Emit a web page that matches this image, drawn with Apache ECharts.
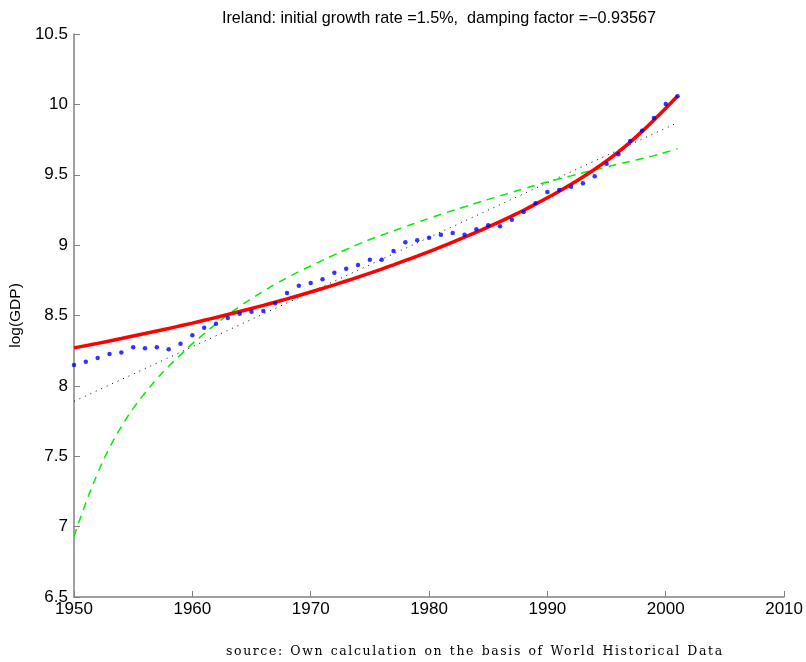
<!DOCTYPE html>
<html>
<head>
<meta charset="utf-8">
<script src="https://cdn.jsdelivr.net/npm/echarts@6/dist/echarts.min.js"></script>
<style>
  html, body { margin: 0; padding: 0; background: #fff; }
  #wrap { position: relative; width: 806px; height: 662px; }
  #chart { width: 806px; height: 662px; }
  #source {
    position: absolute; left: 226px; top: 643px;
    font-family: 'DejaVu Serif', serif; font-size: 12.5px;
    letter-spacing: 1.6px; word-spacing: 1px; color: #000; white-space: nowrap;
  }
</style>
</head>
<body>
<div id="wrap">
  <div id="chart"></div>
  <div id="source">source: Own calculation on the basis of World Historical Data</div>
</div>
<script>
// Years covered by the data
const years = [];
for (let y = 1950; y <= 2001; y++) years.push(y);

// Observed log(GDP) for Ireland, one value per year
const logGdp = [
  8.148, 8.172, 8.198, 8.226, 8.238, 8.274, 8.267, 8.274, 8.260, 8.300,
  8.359, 8.413, 8.442, 8.482, 8.513, 8.527, 8.532, 8.587, 8.660, 8.712,
  8.731, 8.757, 8.804, 8.833, 8.859, 8.896, 8.896, 8.958, 9.020, 9.034,
  9.053, 9.074, 9.086, 9.074, 9.112, 9.141, 9.134, 9.181, 9.235, 9.297,
  9.377, 9.392, 9.415, 9.439, 9.489, 9.579, 9.645, 9.740, 9.813, 9.903,
  10.003, 10.057
];

// Damped-growth model path (red), one value per year
const modelVals = [
  8.270, 8.286, 8.302, 8.319, 8.336, 8.354, 8.372, 8.390, 8.408, 8.427,
  8.446, 8.466, 8.486, 8.507, 8.528, 8.550, 8.572, 8.595, 8.618, 8.642,
  8.667, 8.692, 8.718, 8.745, 8.773, 8.801, 8.830, 8.860, 8.891, 8.922,
  8.954, 8.987, 9.021, 9.056, 9.092, 9.129, 9.167, 9.207, 9.248, 9.291,
  9.336, 9.383, 9.432, 9.484, 9.539, 9.598, 9.662, 9.732, 9.808, 9.889,
  9.973, 10.060
];

// Alternative fit (green dashed), one value per year
const altVals = [
  6.930, 7.170, 7.380, 7.560, 7.710, 7.840, 7.950, 8.050, 8.140, 8.220,
  8.300, 8.370, 8.440, 8.505, 8.565, 8.620, 8.672, 8.722, 8.768, 8.812,
  8.852, 8.892, 8.931, 8.969, 9.005, 9.040, 9.071, 9.101, 9.131, 9.161,
  9.190, 9.219, 9.246, 9.272, 9.299, 9.325, 9.350, 9.375, 9.400, 9.425,
  9.449, 9.471, 9.492, 9.514, 9.535, 9.555, 9.575, 9.595, 9.615, 9.636,
  9.660, 9.685
];

// Linear trend (black dotted), end points
const trendYears = [1950, 2001];
const trendVals  = [7.89, 9.87];

const pair = (xs, ys) => xs.map((x, i) => [x, ys[i]]);

const chart = echarts.init(document.getElementById('chart'));
const axisGray = '#808080';
const sans = 'Liberation Sans, Arial, sans-serif';
const tickFont = { color: '#000', fontFamily: sans, fontSize: 17 };

chart.setOption({
  animation: false,
  backgroundColor: '#fff',
  title: {
    text: 'Ireland: initial growth rate =1.5%,  damping factor =\u22120.93567',
    left: 434, top: 6, textAlign: 'center',
    textStyle: { fontFamily: sans, fontSize: 16.2, fontWeight: 'normal', color: '#000' }
  },
  grid: { left: 71, right: 21, top: 34, bottom: 65 },
  xAxis: {
    type: 'value', min: 1950, max: 2010, interval: 10,
    axisLine: { show: true, lineStyle: { color: axisGray, width: 1.5 } },
    axisTick: { show: true, inside: true, length: 6, lineStyle: { color: axisGray } },
    axisLabel: Object.assign({ margin: 4, formatter: v => String(v), showMinLabel: true, showMaxLabel: true }, tickFont),
    splitLine: { show: false }
  },
  yAxis: {
    type: 'value', min: 6.5, max: 10.5, interval: 0.5,
    name: 'log(GDP)', nameLocation: 'middle', nameGap: 45, nameRotate: 90,
    nameTextStyle: { color: '#000', fontFamily: sans, fontSize: 15.5 },
    axisLine: { show: true, lineStyle: { color: axisGray, width: 1.5 } },
    axisTick: { show: true, inside: true, length: 6, lineStyle: { color: axisGray } },
    axisLabel: Object.assign({ margin: 6, showMinLabel: true, showMaxLabel: true }, tickFont),
    splitLine: { show: false }
  },
  series: [
    {
      name: 'trend', type: 'line', data: pair(trendYears, trendVals),
      symbol: 'none', lineStyle: { color: '#000', width: 1, type: [1, 5] }, z: 2
    },
    {
      name: 'alt', type: 'line', data: pair(years, altVals), smooth: 0.4,
      symbol: 'none', lineStyle: { color: '#00ee00', width: 1.5, type: [8, 6] }, z: 3
    },
    {
      name: 'model', type: 'line', data: pair(years, modelVals), smooth: 0.4,
      symbol: 'none', lineStyle: { color: '#ff0000', width: 3.5 }, z: 4
    },
    {
      name: 'observed', type: 'scatter', data: pair(years, logGdp),
      symbol: 'circle', symbolSize: 4.5, itemStyle: { color: '#0000ff' }, z: 5
    }
  ]
});
</script>
</body>
</html>
